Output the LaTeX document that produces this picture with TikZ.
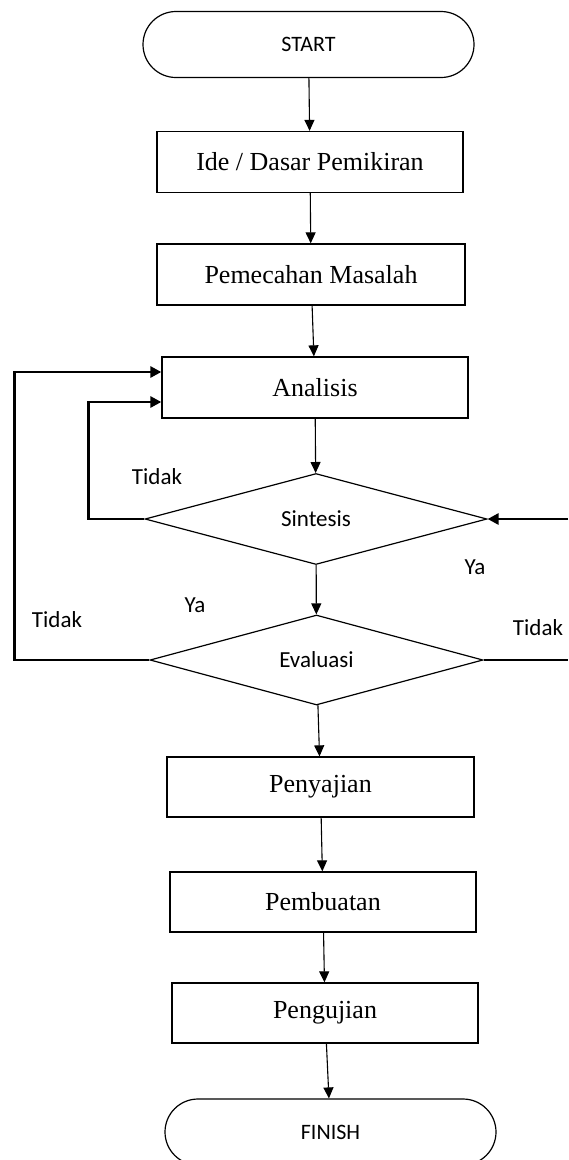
\documentclass[tikz,border=0pt]{standalone}
\usepackage{fontspec}
\setmainfont{Liberation Serif}
\newfontfamily\calibri{Carlito}
\usetikzlibrary{shapes.geometric,arrows.meta}

\begin{document}
\begin{tikzpicture}[x=1pt, y=-1pt,
  terminal/.style={draw, line width=1.2pt, rounded corners=33pt, minimum width=331pt, minimum height=66pt, inner sep=0pt, font=\calibri\fontsize{22}{24}\selectfont},
  process/.style={draw, line width=1.3pt, minimum width=306pt, minimum height=61pt, inner sep=0pt, font=\fontsize{26}{28}\selectfont},
  decision/.style={draw, diamond, line width=1.2pt, aspect=3.7, inner sep=0pt, font=\calibri\fontsize{23}{25}\selectfont},
  flow/.style={-{Triangle[length=11pt, width=10pt]}, line width=1.1pt},
  loop/.style={-{Triangle[length=11pt, width=11pt]}, line width=2.9pt},
  answer/.style={font=\calibri\fontsize{23}{25}\selectfont}
]
  \useasboundingbox (0,0) rectangle (568,1160);

  % Main column
  \node[terminal] (start) at (308.5, 44.5) {START};
  \node[process] (ide) at (310, 162) {Ide / Dasar Pemikiran};
  \node[process, minimum width=308pt] (pemecahan) at (311, 274.5) {Pemecahan Masalah};
  \node[process] (analisis) at (315, 387.5) {Analisis};
  \node[decision, minimum width=342pt, minimum height=91pt] (sintesis) at (316, 519) {Sintesis};
  \node[decision, minimum width=333pt, minimum height=90pt] (evaluasi) at (316.5, 660) {Evaluasi};
  \node[process, minimum width=307pt, minimum height=60pt] (penyajian) at (320.5, 787) {Penyajian};
  \node[process, minimum height=60pt] (pembuatan) at (323, 902) {Pembuatan};
  \node[process, minimum height=60pt] (pengujian) at (325, 1013) {Pengujian};
  \node[terminal] (finish) at (330.5, 1132) {FINISH};

  % Downward flow
  \draw[flow] (start) -- (ide);
  \draw[flow] (ide) -- (pemecahan);
  \draw[flow] (pemecahan) -- (analisis);
  \draw[flow] (analisis) -- (sintesis);
  \draw[flow] (sintesis) -- (evaluasi);
  \draw[flow] (evaluasi) -- (penyajian);
  \draw[flow] (penyajian) -- (pembuatan);
  \draw[flow] (pembuatan) -- (pengujian);
  \draw[flow] (pengujian) -- (finish);

  % Feedback loops
  \coordinate (edgeS) at (568, 519);
  \coordinate (edgeE) at (568, 660);
  \draw[loop] (sintesis.west) -- ++(-56,0) |- ([yshift=-14.5pt]analisis.west);
  \draw[loop] (evaluasi.west) -- ++(-135,0) |- ([yshift=15.5pt]analisis.west);
  \draw[loop] (edgeS) -- (sintesis.east);
  \draw[line width=2.9pt] (evaluasi.east) -- (edgeE);

  % Answers
  \node[answer] (tidakS) at (157, 477) {Tidak};
  \node[answer] (yaS) at (475, 567) {Ya};
  \node[answer] (tidakL) at (57, 620) {Tidak};
  \node[answer] (yaE) at (195, 605) {Ya};
  \node[answer] (tidakR) at (538, 628) {Tidak};
\end{tikzpicture}
\end{document}
